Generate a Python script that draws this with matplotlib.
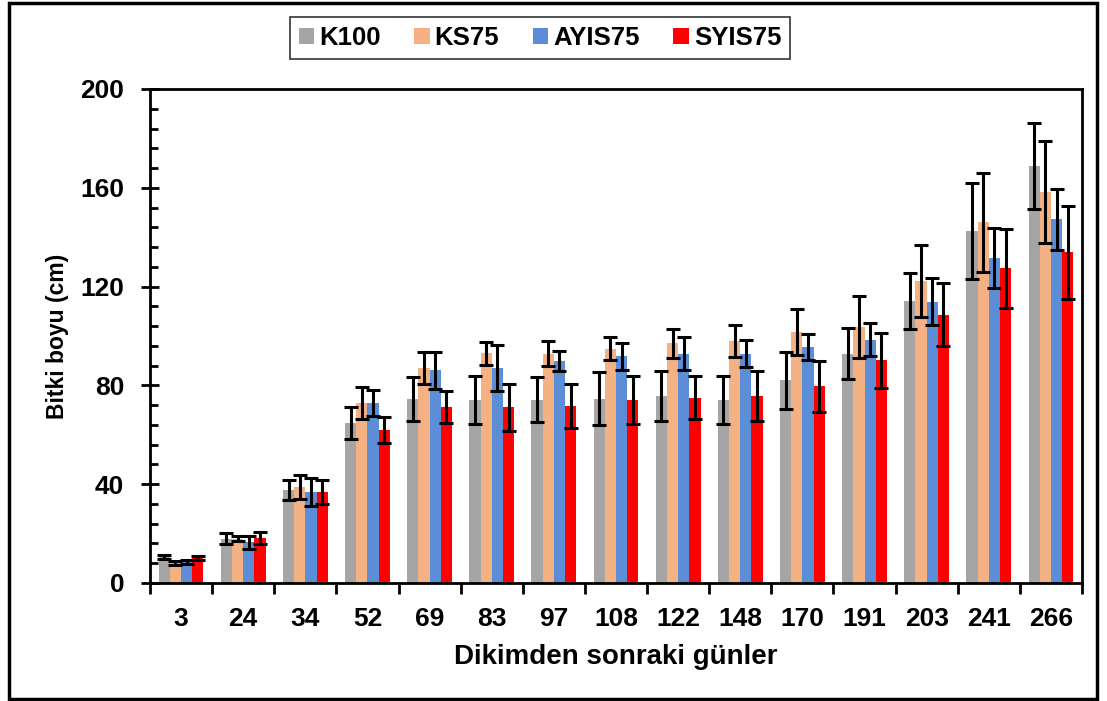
import matplotlib
matplotlib.use("Agg")
import matplotlib.pyplot as plt
import numpy as np
from matplotlib.patches import Rectangle
from matplotlib.ticker import MultipleLocator, FixedLocator, NullFormatter

plt.rcParams['font.family'] = ['Liberation Sans', 'DejaVu Sans']
plt.rcParams['font.weight'] = 'bold'

days = ["3", "24", "34", "52", "69", "83", "97", "108", "122", "148", "170", "191", "203", "241", "266"]
series_names = ["K100", "KS75", "AYIS75", "SYIS75"]

k100 = [10.6, 18.0, 37.8, 64.8, 74.6, 74.1, 74.1, 74.6, 75.7, 74.1, 82.0, 92.8, 114.3, 142.4, 168.7]
ks75 = [8.2, 18.0, 38.9, 72.8, 87.1, 93.0, 92.9, 94.9, 97.0, 98.0, 101.5, 103.6, 122.4, 146.0, 158.3]
ayis75 = [8.6, 16.4, 36.8, 72.8, 86.1, 87.1, 89.9, 91.8, 92.9, 92.9, 95.5, 98.5, 113.9, 131.6, 147.3]
syis75 = [10.1, 18.2, 36.8, 62.1, 71.2, 71.1, 71.6, 74.1, 75.1, 75.7, 79.6, 90.1, 108.7, 127.5, 133.9]

k100_err = [0.9, 2.2, 4.0, 6.4, 8.9, 9.6, 9.1, 10.7, 10.0, 9.7, 11.4, 10.4, 11.3, 19.5, 17.4]
ks75_err = [0.9, 1.1, 4.8, 6.4, 6.4, 4.7, 5.1, 4.7, 5.9, 6.6, 9.3, 12.5, 14.6, 20.0, 20.5]
ayis75_err = [0.9, 2.5, 5.7, 5.3, 7.4, 9.4, 4.2, 5.5, 6.5, 5.3, 5.4, 6.7, 9.4, 12.3, 12.4]
syis75_err = [0.9, 2.6, 4.7, 5.3, 6.4, 9.6, 9.0, 9.8, 8.8, 10.0, 10.4, 11.3, 12.6, 16.0, 18.9]

colors = ["#A5A5A5", "#F4B183", "#5B8ED6", "#FF0000"]
values = [k100, ks75, ayis75, syis75]
errors = [k100_err, ks75_err, ayis75_err, syis75_err]

fig = plt.figure(figsize=(11.07, 7.01), dpi=100)
ax = fig.add_axes([150/1107, 1-583/701, (1082-150)/1107, (583-89)/701])

x = np.arange(len(days))
w = 0.18
for i, (name, v, e, c) in enumerate(zip(series_names, values, errors, colors)):
    ax.bar(x + (i - 1.5) * w, v, width=w, color=c, label=name, zorder=2)
    ax.errorbar(x + (i - 1.5) * w, v, yerr=e, fmt='none', ecolor='black',
                elinewidth=2.2, capsize=5, capthick=2.2, zorder=3)

ax.set_xlim(-0.5, len(days) - 0.5)
ax.set_ylim(0, 200)
ax.yaxis.set_major_locator(MultipleLocator(40))
ax.yaxis.set_minor_locator(MultipleLocator(8))

ax.xaxis.set_major_locator(FixedLocator(np.arange(len(days) + 1) - 0.5))
ax.xaxis.set_major_formatter(NullFormatter())
ax.xaxis.set_minor_locator(FixedLocator(x))
ax.set_xticklabels(days, minor=True)
ax.tick_params(axis='x', which='major', direction='out', length=8, width=2)
ax.tick_params(axis='x', which='minor', length=0, labelsize=19, pad=17)
ax.tick_params(axis='y', which='major', direction='inout', length=13, width=2, labelsize=19, pad=12)
ax.tick_params(axis='y', which='minor', direction='in', length=6, width=2)
for lab in ax.get_xticklabels(minor=True) + ax.get_yticklabels():
    lab.set_fontweight('bold')

for s in ax.spines.values():
    s.set_linewidth(2)

ax.set_xlabel("Dikimden sonraki günler", fontsize=20, fontweight='bold', labelpad=10)
ax.set_ylabel("Bitki boyu (cm)", fontsize=16.5, fontweight='bold', labelpad=8)

leg = fig.legend(loc='center', bbox_to_anchor=(540/1107, 1-38/701), ncol=4,
                 fontsize=18.5, frameon=True, fancybox=False, edgecolor='black',
                 handlelength=0.6, handleheight=0.6, handletextpad=0.2,
                 columnspacing=1.3, borderpad=0.35)
leg.get_frame().set_linewidth(1.2)
for t in leg.get_texts():
    t.set_fontweight('bold')

fig.patches.append(Rectangle((9/1107, 1-699/701), (1097-9)/1107, (699-3)/701,
                             transform=fig.transFigure, fill=False,
                             edgecolor='black', linewidth=2.5))

fig.savefig("out.png", dpi=100)
